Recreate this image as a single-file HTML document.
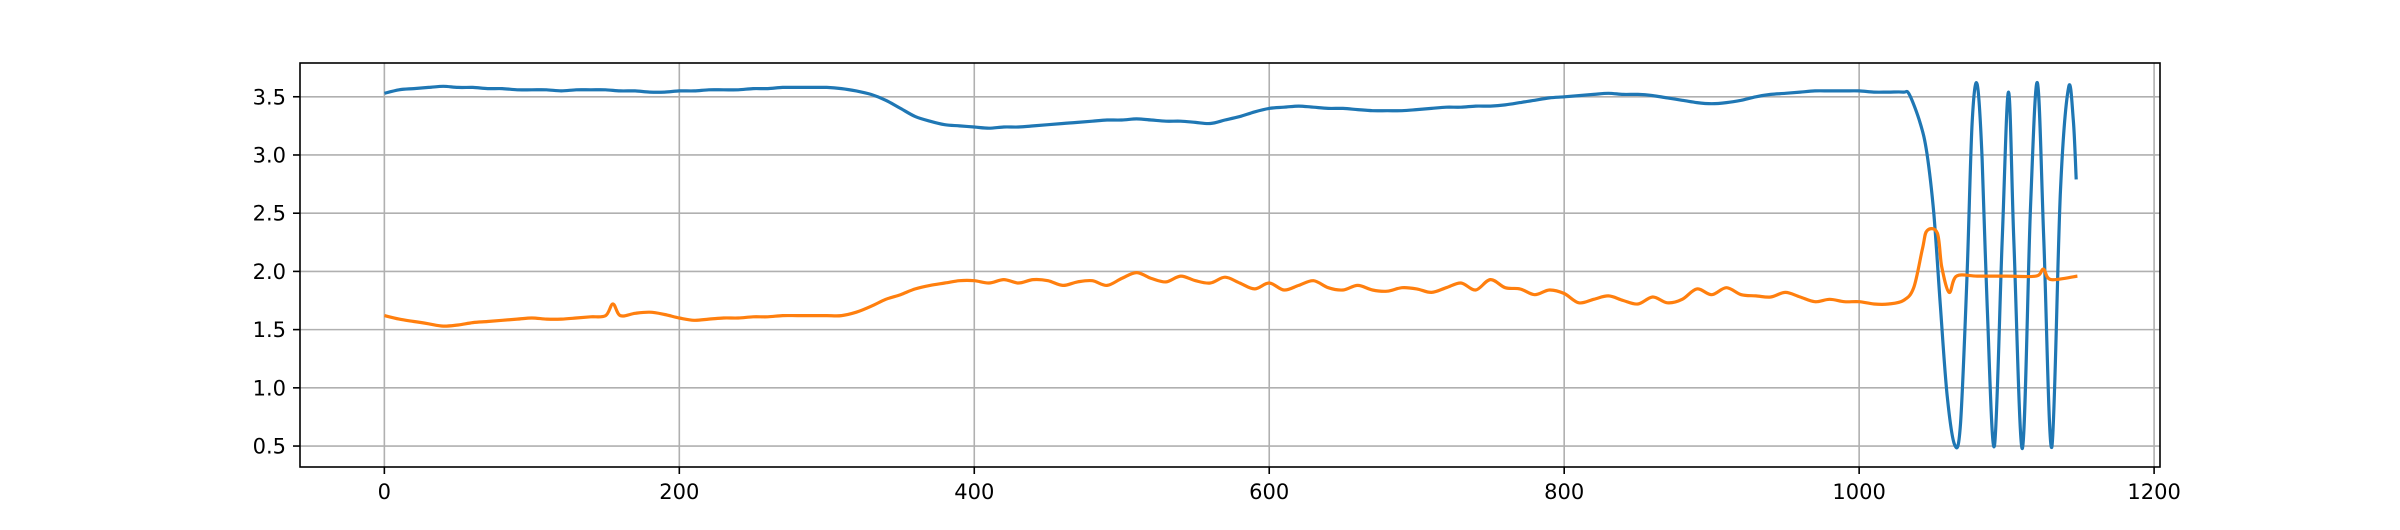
<!DOCTYPE html>
<html><head><meta charset="utf-8"><style>
body{margin:0;background:#fff}
svg text{font-family:"DejaVu Sans","Liberation Sans",sans-serif;font-size:21px;fill:#000}
</style></head><body>
<svg id="chart" width="2400" height="525" xmlns="http://www.w3.org/2000/svg"></svg>
<script>
const xTicks=[0,200,400,600,800,1000,1200];
const yTicks=[0.5,1.0,1.5,2.0,2.5,3.0,3.5];
const blueX=[0,10,20,30,40,50,60,70,80,90,100,110,120,130,140,150,160,170,180,190,200,210,220,230,240,250,260,270,280,290,300,310,320,330,340,350,360,370,380,390,400,410,420,430,440,450,460,470,480,490,500,510,520,530,540,550,560,570,580,590,600,610,620,630,640,650,660,670,680,690,700,710,720,730,740,750,760,770,780,790,800,810,820,830,840,850,860,870,880,890,900,910,920,930,940,950,960,970,980,990,1000,1010,1020,1030,1034,1041.5,1046,1050.6,1055.1,1059.7,1064.8,1068.7,1073.2,1076.6,1080,1083.4,1086.8,1091.7,1097,1101.3,1104.9,1110.7,1116.2,1120.9,1125.2,1130.6,1136.5,1142,1145.2,1147.2];
const blueY=[3.53,3.56,3.57,3.58,3.59,3.58,3.58,3.57,3.57,3.56,3.56,3.56,3.55,3.56,3.56,3.56,3.55,3.55,3.54,3.54,3.55,3.55,3.56,3.56,3.56,3.57,3.57,3.58,3.58,3.58,3.58,3.57,3.55,3.52,3.47,3.40,3.33,3.29,3.26,3.25,3.24,3.23,3.24,3.24,3.25,3.26,3.27,3.28,3.29,3.3,3.3,3.31,3.3,3.29,3.29,3.28,3.27,3.3,3.33,3.37,3.4,3.41,3.42,3.41,3.4,3.4,3.39,3.38,3.38,3.38,3.39,3.4,3.41,3.41,3.42,3.42,3.43,3.45,3.47,3.49,3.5,3.51,3.52,3.53,3.52,3.52,3.51,3.49,3.47,3.45,3.44,3.45,3.47,3.5,3.52,3.53,3.54,3.55,3.55,3.55,3.55,3.54,3.54,3.54,3.52,3.27,3.01,2.5,1.70,0.93,0.51,0.69,1.98,3.27,3.61,2.97,1.70,0.5,2.27,3.54,2.27,0.48,2.55,3.62,2.27,0.49,2.7,3.58,3.3,2.79];
const orangeX=[0,10,20,30,40,50,60,70,80,90,100,110,120,130,140,150,155,160,170,180,190,200,210,220,230,240,250,260,270,280,290,300,310,320,330,340,350,360,370,380,390,400,410,420,430,440,450,460,470,480,490,500,510,520,530,540,550,560,570,580,590,600,610,620,630,640,650,660,670,680,690,700,710,720,730,740,750,760,770,780,790,800,810,820,830,840,850,860,870,880,890,900,910,920,930,940,950,960,970,980,990,1000,1010,1020,1030,1037,1043,1046,1053,1056,1061,1066,1080,1100,1120,1125,1130,1148];
const orangeY=[1.62,1.59,1.57,1.55,1.53,1.54,1.56,1.57,1.58,1.59,1.6,1.59,1.59,1.6,1.61,1.62,1.72,1.62,1.64,1.65,1.63,1.6,1.58,1.59,1.6,1.6,1.61,1.61,1.62,1.62,1.62,1.62,1.62,1.65,1.7,1.76,1.8,1.85,1.88,1.9,1.92,1.92,1.9,1.93,1.9,1.93,1.92,1.88,1.91,1.92,1.88,1.94,1.99,1.94,1.91,1.96,1.92,1.9,1.95,1.9,1.85,1.9,1.84,1.88,1.92,1.86,1.84,1.88,1.84,1.83,1.86,1.85,1.82,1.86,1.9,1.84,1.93,1.86,1.85,1.8,1.84,1.81,1.73,1.76,1.79,1.75,1.72,1.78,1.73,1.76,1.85,1.8,1.86,1.8,1.79,1.78,1.82,1.78,1.74,1.76,1.74,1.74,1.72,1.72,1.75,1.86,2.2,2.35,2.33,2.04,1.82,1.96,1.96,1.96,1.96,2.02,1.93,1.96];

const NS="http://www.w3.org/2000/svg";
const svg=document.getElementById('chart');
const L=300,R=2160,T=63,B=467;
const xMin=-57.2,xMax=1204,yMin=0.32,yMax=3.79;
function sx(v){return L+(v-xMin)/(xMax-xMin)*(R-L);}
function sy(v){return B-(v-yMin)/(yMax-yMin)*(B-T);}
function mk(tag,attrs){const e=document.createElementNS(NS,tag);for(const k in attrs)e.setAttribute(k,attrs[k]);svg.appendChild(e);return e;}

xTicks.forEach(t=>{
  const g=mk('line',{x1:sx(t),x2:sx(t),y1:T,y2:B,stroke:'#b0b0b0','stroke-width':1.6});
  
  
  const tk=mk('line',{x1:sx(t),x2:sx(t),y1:B,y2:B+7,stroke:'#000','stroke-width':1.6});
  
  
  const tx=mk('text',{x:sx(t),y:499,'text-anchor':'middle'});
  tx.textContent=String(t);
  
  
});
yTicks.forEach(t=>{
  const g=mk('line',{x1:L,x2:R,y1:sy(t),y2:sy(t),stroke:'#b0b0b0','stroke-width':1.6});
  
  
  const tk=mk('line',{x1:L-7,x2:L,y1:sy(t),y2:sy(t),stroke:'#000','stroke-width':1.6});
  
  
  const tx=mk('text',{x:L-14,y:sy(t)+7.5,'text-anchor':'end'});
  tx.textContent=t.toFixed(1);
  
  
});

function pathFor(xs,ys){
  const p=xs.map((x,i)=>[sx(x),sy(ys[i])]);
  let d='M'+p[0][0].toFixed(1)+','+p[0][1].toFixed(1);
  for(let i=0;i<p.length-1;i++){
    const p0=p[i-1]||p[i],p1=p[i],p2=p[i+1],p3=p[i+2]||p[i+1];
    const c1=[p1[0]+(p2[0]-p0[0])/6,p1[1]+(p2[1]-p0[1])/6];
    const c2=[p2[0]-(p3[0]-p1[0])/6,p2[1]-(p3[1]-p1[1])/6];
    d+=' C'+c1[0].toFixed(1)+','+c1[1].toFixed(1)+' '+c2[0].toFixed(1)+','+c2[1].toFixed(1)+' '+p2[0].toFixed(1)+','+p2[1].toFixed(1);
  }
  return d;
}
const b=mk('path',{d:pathFor(blueX,blueY),fill:'none',stroke:'#1f77b4','stroke-width':3.2,'stroke-linejoin':'round'});


const o=mk('path',{d:pathFor(orangeX,orangeY),fill:'none',stroke:'#ff7f0e','stroke-width':3.2,'stroke-linejoin':'round'});


const fr=mk('rect',{x:L,y:T,width:R-L,height:B-T,fill:'none',stroke:'#000','stroke-width':1.6});


</script>
</body></html>
